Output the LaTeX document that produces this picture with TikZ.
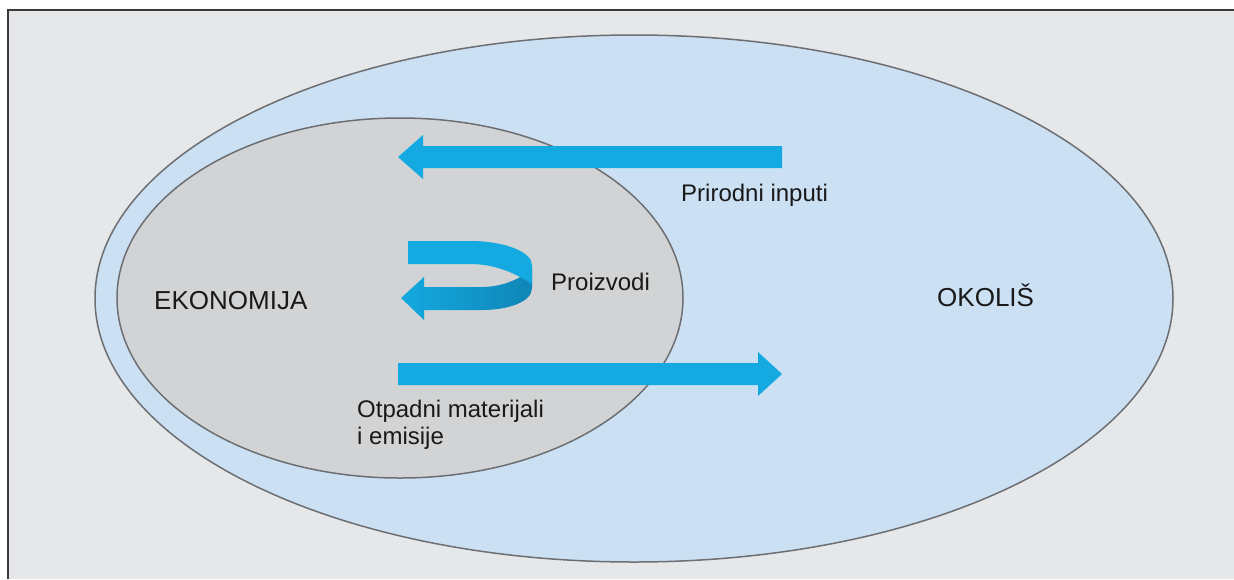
\documentclass[tikz,border=0pt]{standalone}
\usepackage{fontspec}
\setmainfont{Liberation Sans}
\usetikzlibrary{shapes.geometric}
\definecolor{bgcol}{HTML}{E6E7E8}
\definecolor{envblue}{HTML}{CCE0F4}
\definecolor{ecogray}{HTML}{D1D3D4}
\definecolor{arrowblue}{HTML}{14A9E0}
\definecolor{arrowdark}{HTML}{0F86B6}
\definecolor{edgecol}{HTML}{6D6E71}
\definecolor{framecol}{HTML}{3A3A3C}
\tikzset{
  region/.style={ellipse, draw=edgecol, line width=1.5pt, inner sep=0pt},
  label/.style={anchor=base west, inner sep=0pt, text=black!90, font=\fontsize{24}{28}\selectfont},
  biglabel/.style={label, font=\fontsize{26}{30}\selectfont},
  flow/.style={fill=arrowblue, draw=none}
}
\begin{document}
\begin{tikzpicture}[x=1pt,y=-1pt]
\useasboundingbox (0,0) rectangle (1234,579);
\fill[bgcol] (8,10) rectangle (1234,579);
\draw[line width=2.5pt, framecol] (8,579) -- (8,10) -- (1234,10);

\node[region, fill=envblue, minimum width=1078pt, minimum height=527pt] (okolis) at (634,298.5) {};
\node[region, fill=ecogray, minimum width=566pt, minimum height=360pt] (ekonomija) at (400,298) {};

% natural inputs arrow
\fill[flow] (782,146) -- (423,146) -- (423,135) -- (398,157) -- (423,179) -- (423,168) -- (782,168) -- cycle;
% waste arrow
\fill[flow] (398,363) -- (758,363) -- (758,352) -- (782,374) -- (758,396) -- (758,385) -- (398,385) -- cycle;

% products U-turn arrow: lower (back) band with gradient
\shade[left color=arrowblue, right color=arrowdark, draw=none]
  (532,268) -- (532,288) .. controls (532,302) and (508,310) .. (482,310)
  -- (424,310) -- (424,320) -- (401,298) -- (424,277) -- (424,287)
  -- (482,287) .. controls (498,287) and (512,282) .. (522,276) -- cycle;
% upper (front) band
\fill[flow] (408,241) -- (470,241) .. controls (505,241) and (532,252) .. (532,265)
  -- (532,284) .. controls (515,273) and (495,264) .. (470,264) -- (408,264) -- cycle;

\node[label] (inputs) at (681,201) {Prirodni inputi};
\node[label] (products) at (551,290) {Proizvodi};
\node[biglabel] (econ) at (154,309) {EKONOMIJA};
\node[biglabel] (env) at (937,306) {OKOLIŠ};
\node[label] (waste1) at (357,417) {Otpadni materijali};
\node[label] (waste2) at (357,444) {i emisije};
\end{tikzpicture}
\end{document}
